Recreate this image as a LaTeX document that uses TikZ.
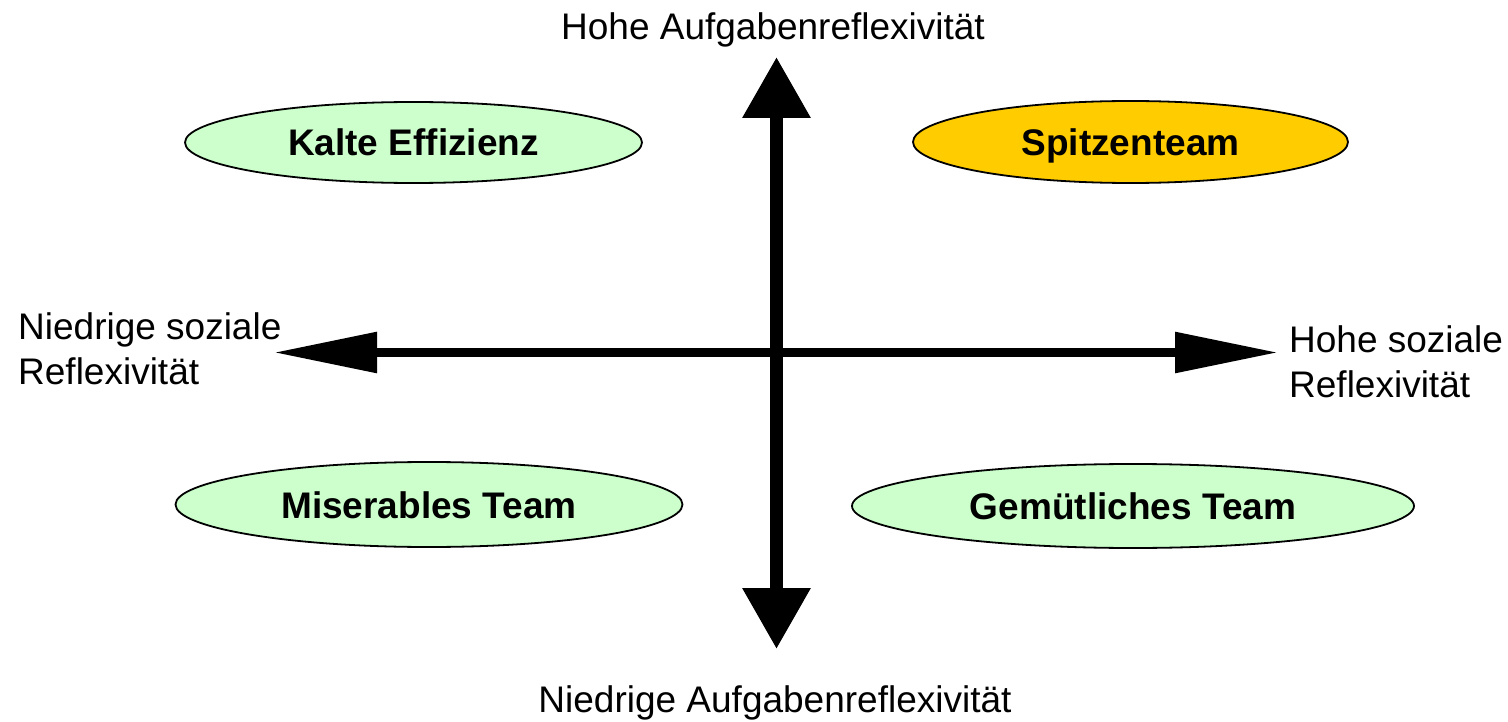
\documentclass[tikz,border=0pt]{standalone}
\usepackage{fontspec}
\setmainfont{Liberation Sans}
\usetikzlibrary{arrows.meta,shapes.geometric}
\definecolor{paleGreen}{HTML}{CCFFCC}
\definecolor{gold}{HTML}{FFCC00}
\begin{document}
\begin{tikzpicture}[x=1pt,y=-1pt,
  quadrant/.style={ellipse,draw=black,line width=1.8pt,inner sep=0pt,
    text height=27pt,text depth=0pt,
    font=\fontsize{37}{44}\selectfont\bfseries},
  axislabel/.style={inner sep=0pt,font=\fontsize{37}{45}\selectfont},
  haxis/.style={line width=9pt,{Triangle[length=103pt,width=39pt]}-{Triangle[length=103pt,width=39pt]}},
  vaxis/.style={line width=13pt,{Triangle[length=61pt,width=65pt]}-{Triangle[length=61pt,width=65pt]}}]
\useasboundingbox (0,0) rectangle (1508,722);

% axis end points
\coordinate (west) at (274,352.5);
\coordinate (east) at (1278,352.5);
\coordinate (north) at (776.5,57);
\coordinate (south) at (776.5,649);

\draw[haxis] (west) -- (east);
\draw[vaxis] (north) -- (south);

% the four team types
\node[quadrant,fill=paleGreen,minimum width=457pt,minimum height=81pt] (kalt) at (413.5,142.5) {Kalte Effizienz};
\node[quadrant,fill=gold,minimum width=435pt,minimum height=82pt] (spitze) at (1130.5,142) {Spitzenteam};
\node[quadrant,fill=paleGreen,minimum width=507pt,minimum height=85pt] (miserabel) at (429,504.5) {Miserables Team};
\node[quadrant,fill=paleGreen,minimum width=562pt,minimum height=84pt] (gemuetlich) at (1133,506) {Gemütliches Team};

% axis labels
\node[axislabel,anchor=base] (top) at (773,40) {Hohe Aufgabenreflexivität};
\node[axislabel,anchor=base] (bottom) at (775,712) {Niedrige Aufgabenreflexivität};
\node[axislabel,anchor=west,align=left] (left) at (18,349) {Niedrige soziale\\Reflexivität};
\node[axislabel,anchor=west,align=left] (right) at (1289,362) {Hohe soziale\\Reflexivität};
\end{tikzpicture}
\end{document}
